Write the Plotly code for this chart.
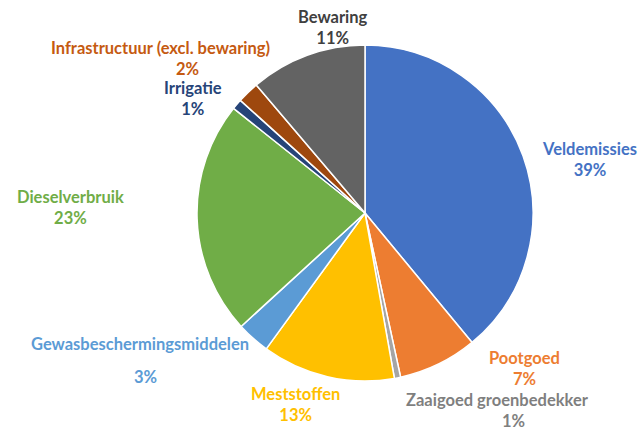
import plotly.graph_objects as go

labels = ["Veldemissies", "Pootgoed", "Zaaigoed groenbedekker", "Meststoffen",
          "Gewasbeschermingsmiddelen", "Dieselverbruik", "Irrigatie",
          "Infrastructuur (excl. bewaring)", "Bewaring"]
values = [39.0, 7.6, 0.6, 12.8, 3.2, 22.5, 1.0, 2.1, 11.2]
pct_text = ["39%", "7%", "1%", "13%", "3%", "23%", "1%", "2%", "11%"]
colors = ["#4472C4", "#ED7D31", "#A5A5A5", "#FFC000", "#5B9BD5",
          "#70AD47", "#264478", "#9E480E", "#636363"]
text_colors = ["#4472C4", "#ED7D31", "#7F7F7F", "#FFC000", "#5B9BD5",
               "#70AD47", "#264478", "#C55A11", "#404040"]

# label placement (pixels in 641x434 page): name centre, percent centre
name_pos = [(586, 148), (521, 358), (497, 400), (290, 394), (140, 344),
            (70, 196), (192, 90), (161, 48), (330, 18)]
pct_pos = [(592, 172), (528, 378), (513, 421), (300, 414), (145, 377),
           (70, 219), (193, 108), (187, 69), (335, 36)]
# labels drawn as one two-line block (small horizontal offset)
combined = {0, 1, 3, 5, 6, 8}

W, H = 641, 434
cx, cy, r = 365, 213, 168
FS = 16.5

fig = go.Figure(go.Pie(
    labels=labels, values=values, sort=False, direction="clockwise",
    rotation=0, textinfo="none", hoverinfo="label+percent",
    marker=dict(colors=colors, line=dict(color="white", width=1.5)),
    domain=dict(x=[(cx - r) / W, (cx + r) / W], y=[(H - cy - r) / H, (H - cy + r) / H]),
    showlegend=False,
))

annotations = []
for i in range(len(labels)):
    font = dict(family="Lato", size=FS, color=text_colors[i])
    if i in combined:
        x = (name_pos[i][0] + pct_pos[i][0]) / 2
        y = (name_pos[i][1] + pct_pos[i][1]) / 2
        items = [("<b>" + labels[i] + "</b><br><b>" + pct_text[i] + "</b>", x, y)]
    else:
        items = [("<b>" + labels[i] + "</b>",) + name_pos[i],
                 ("<b>" + pct_text[i] + "</b>",) + pct_pos[i]]
    for txt, x, y in items:
        annotations.append(dict(
            x=x / W, y=1 - y / H, xref="paper", yref="paper",
            text=txt, showarrow=False, align="center",
            xanchor="center", yanchor="middle", font=font,
        ))

fig.update_layout(
    width=W, height=H, margin=dict(l=0, r=0, t=0, b=0),
    paper_bgcolor="white", plot_bgcolor="white",
    annotations=annotations,
)
fig.write_html("out.html", config={"displayModeBar": False},
               post_script="document.body.style.margin='0';")
